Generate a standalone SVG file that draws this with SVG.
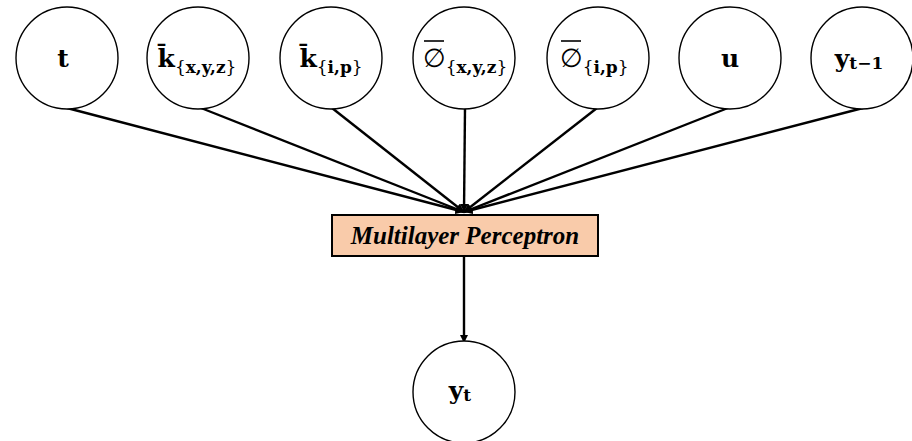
<svg xmlns="http://www.w3.org/2000/svg" width="912" height="441" viewBox="0 0 912 441">
<style>
.node circle{fill:#fff;stroke:#000;stroke-width:1.4}
.lbl{font-family:"DejaVu Serif","Liberation Serif",serif;font-weight:bold;font-size:25px;fill:#000;text-anchor:middle}
.st{text-anchor:start}
.sub{font-size:17px}
.rg{font-weight:normal}
.phi{font-family:"DejaVu Sans",sans-serif;font-weight:normal;font-size:26px}
.bar{stroke:#000;stroke-width:1.6}
.edge{stroke:#000;stroke-width:2.4;fill:none}
.mlp{font-family:"Liberation Serif",serif;font-weight:bold;font-style:italic;font-size:25px;text-anchor:middle;fill:#000}
</style>
<defs>
<marker id="ah" viewBox="0 0 10 10" refX="10" refY="5" markerWidth="3.5" markerHeight="3.5" orient="auto" markerUnits="strokeWidth">
<path d="M0,0 L10,5 L0,10 z" fill="#000"/>
</marker>
</defs>
<g id="connectors">
<line class="edge" x1="67" y1="108" x2="464" y2="212" marker-end="url(#ah)"/>
<line class="edge" x1="201" y1="108" x2="464" y2="212" marker-end="url(#ah)"/>
<line class="edge" x1="332" y1="108" x2="464" y2="212" marker-end="url(#ah)"/>
<line class="edge" x1="465" y1="108" x2="464" y2="212" marker-end="url(#ah)"/>
<line class="edge" x1="597" y1="108" x2="464" y2="212" marker-end="url(#ah)"/>
<line class="edge" x1="728" y1="108" x2="464" y2="212" marker-end="url(#ah)"/>
<line class="edge" x1="863" y1="108" x2="464" y2="212" marker-end="url(#ah)"/>
<line class="edge" x1="464" y1="256" x2="464" y2="343" marker-end="url(#ah)"/>
</g>
<g id="n-t" class="node"><circle cx="67" cy="58" r="51"/><text class="lbl" x="63" y="67">t</text></g>
<g id="n-kxyz" class="node"><circle cx="198" cy="58" r="51"/><text class="lbl" x="197" y="67">k̄<tspan class="sub" dy="6"><tspan class="rg">{</tspan>x,y,z<tspan class="rg">}</tspan></tspan></text></g>
<g id="n-kip" class="node"><circle cx="331" cy="58" r="51"/><text class="lbl" x="331" y="67">k̄<tspan class="sub" dy="6"><tspan class="rg">{</tspan>i,p<tspan class="rg">}</tspan></tspan></text></g>
<g id="n-phixyz" class="node"><circle cx="464" cy="58" r="51"/><line class="bar" x1="424" y1="41" x2="444" y2="41"/><text class="lbl st" x="423" y="67"><tspan class="phi">∅</tspan><tspan class="sub" dy="6"><tspan class="rg">{</tspan>x,y,z<tspan class="rg">}</tspan></tspan></text></g>
<g id="n-phiip" class="node"><circle cx="598" cy="58" r="51"/><line class="bar" x1="561" y1="41" x2="581" y2="41"/><text class="lbl st" x="560" y="67"><tspan class="phi">∅</tspan><tspan class="sub" dy="6"><tspan class="rg">{</tspan>i,p<tspan class="rg">}</tspan></tspan></text></g>
<g id="n-u" class="node"><circle cx="730" cy="58" r="51"/><text class="lbl" x="730" y="67">u</text></g>
<g id="n-yt1" class="node"><circle cx="862" cy="58" r="51"/><text class="lbl" x="859" y="67">y<tspan class="sub" dy="2">t−1</tspan></text></g>
<g id="n-mlp"><rect x="332" y="215" width="266" height="41" fill="#F9CBAA" stroke="#000" stroke-width="2"/><text class="mlp" x="465" y="244">Multilayer Perceptron</text></g>
<g id="n-yt" class="node"><circle cx="464" cy="392" r="51"/><text class="lbl" x="460" y="399">y<tspan class="sub" dy="2">t</tspan></text></g>
</svg>
